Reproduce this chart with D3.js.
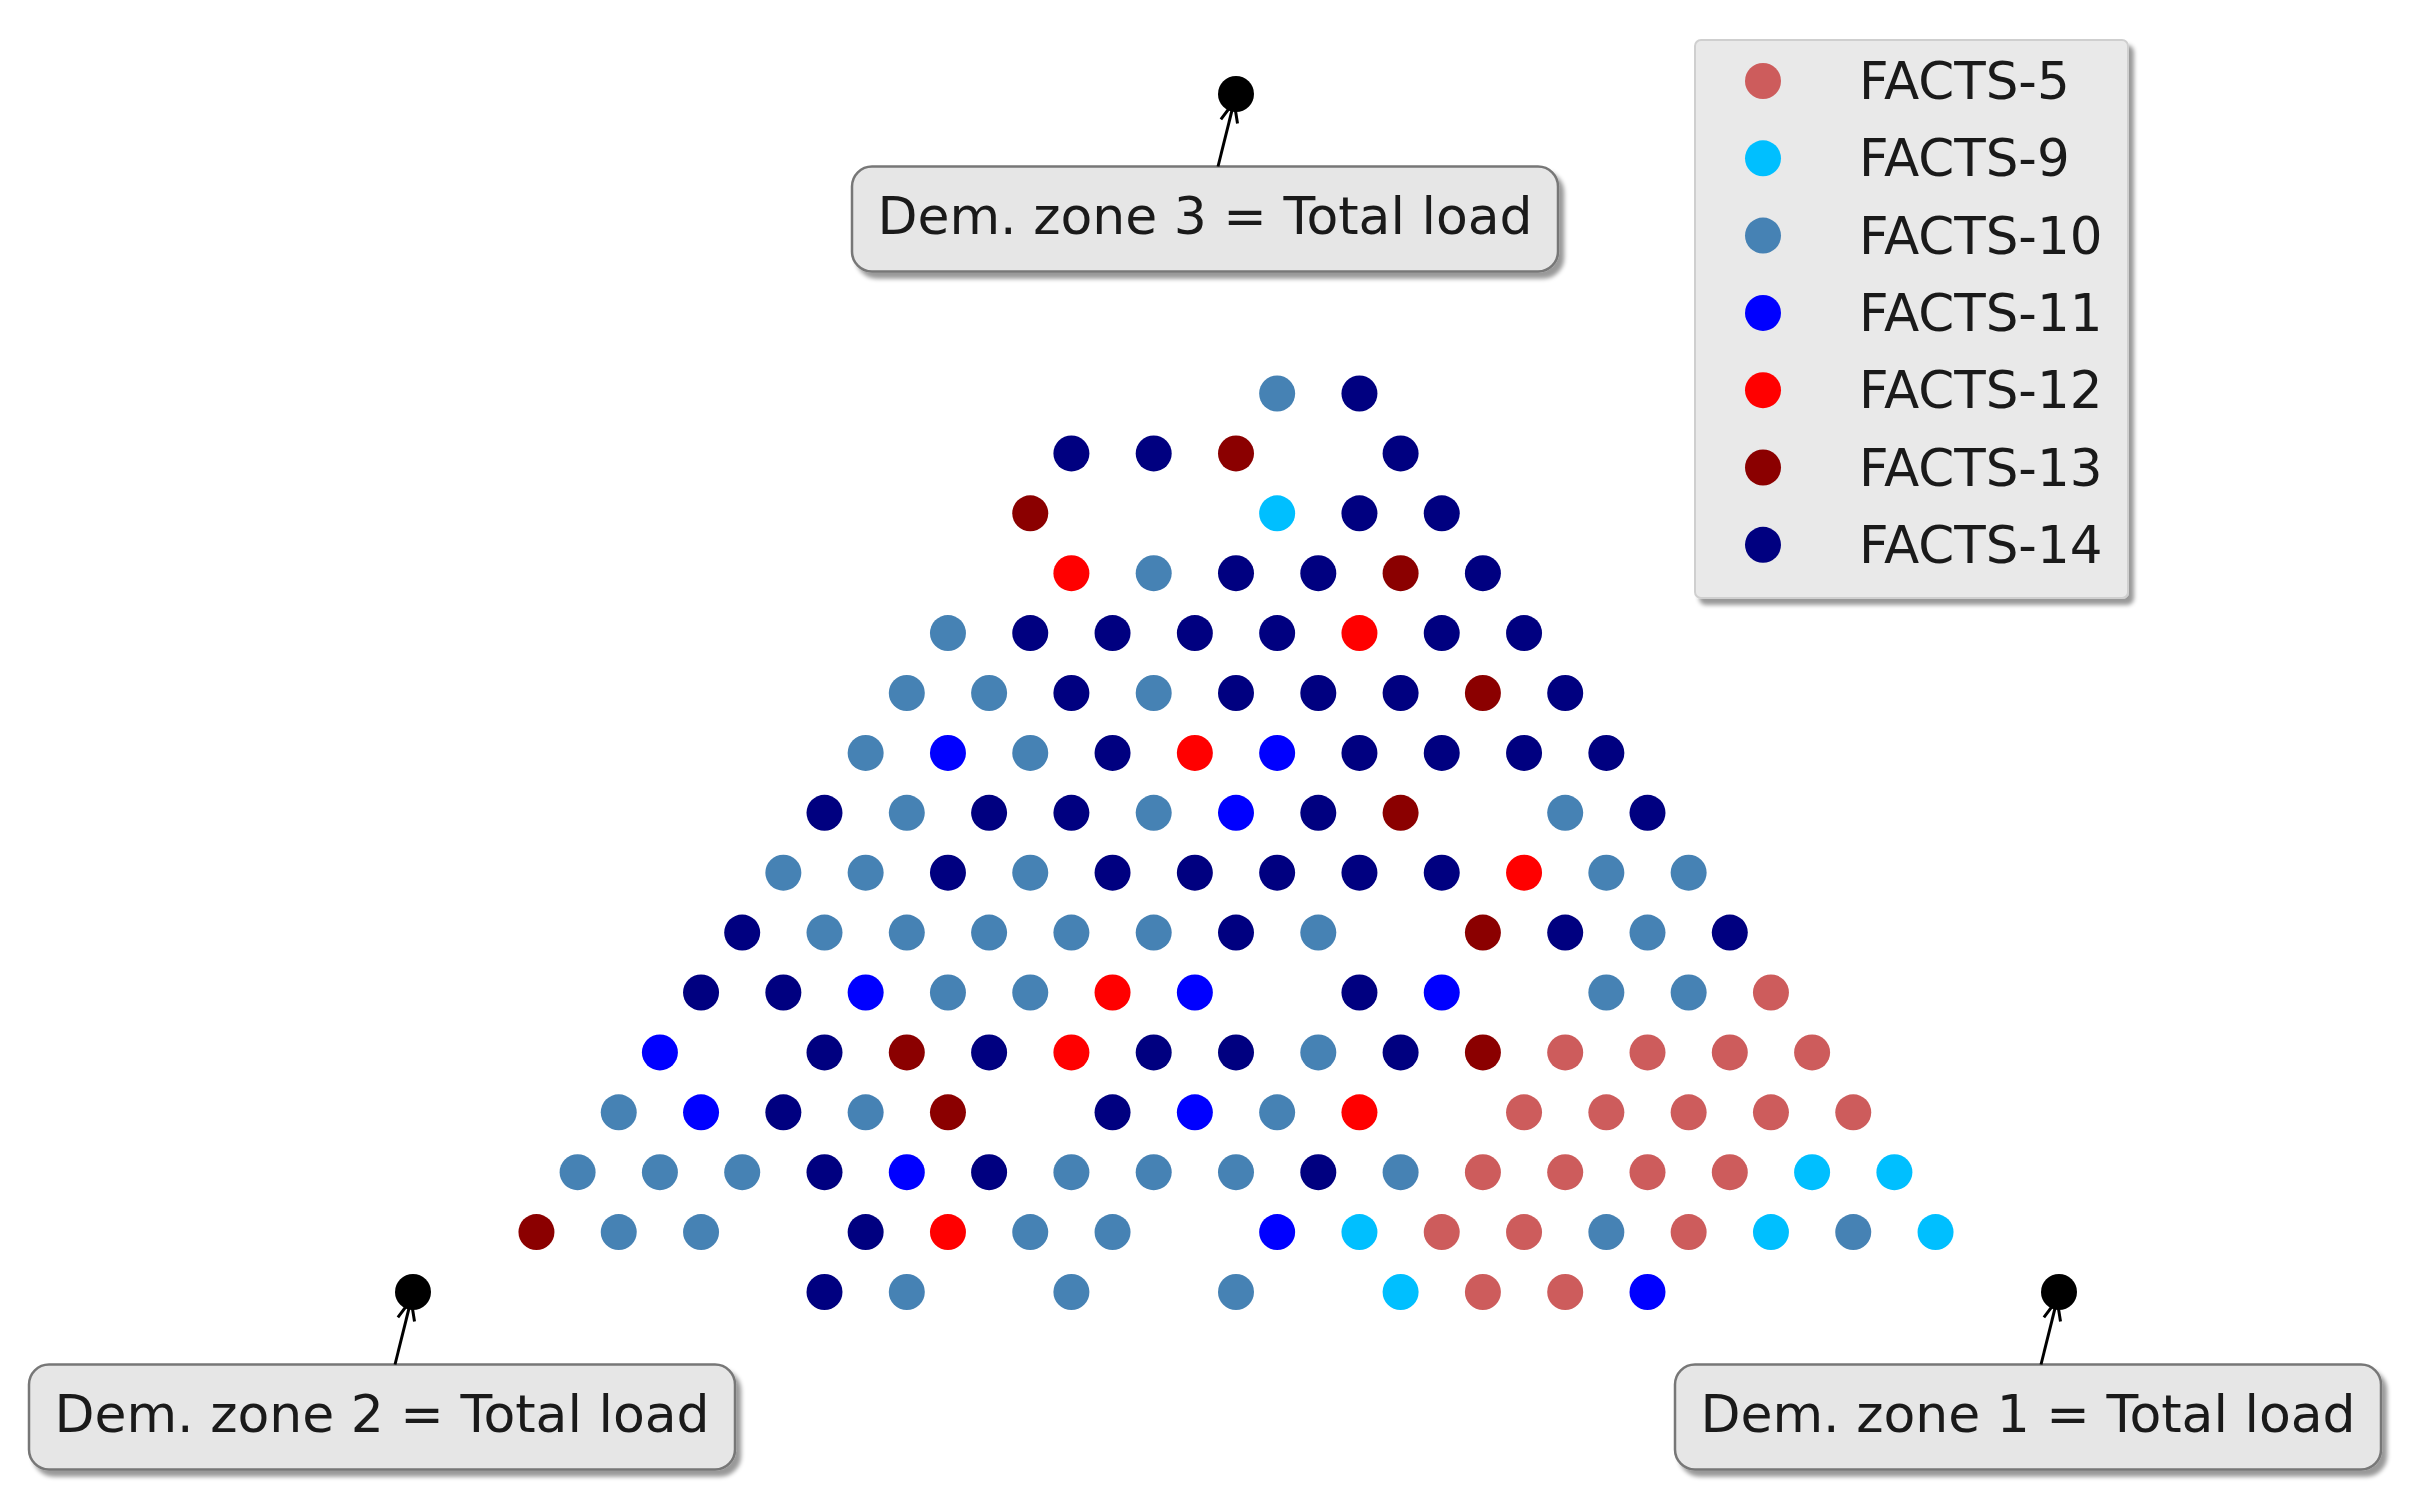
<!DOCTYPE html>
<html>
<head>
<meta charset="utf-8">
<script src="https://cdn.jsdelivr.net/npm/d3@7"></script>
<style>
  body { margin: 0; background: #fff; }
  text { font-family: "DejaVu Sans", sans-serif; }
</style>
</head>
<body>
<div id="chart"></div>
<script>
// Total load split into 20 steps, points given as [zone 1, zone 3] (zone 2 = rest)
var totalSteps = 20;

var factsNames = ["FACTS-5", "FACTS-9", "FACTS-10", "FACTS-11", "FACTS-12", "FACTS-13", "FACTS-14"];
var factsColors = ["indianred", "deepskyblue", "steelblue", "blue", "red", "darkred", "navy"];

var facts5 = [[14,5],[12,4],[13,4],[14,4],[15,4],[12,3],[13,3],[14,3],[15,3],[16,3],
  [12,2],[13,2],[14,2],[15,2],[12,1],[13,1],[15,1],[13,0],[14,0]];
var facts9 = [[4,13],[16,2],[17,2],[11,1],[16,1],[18,1],[12,0]];
var facts10 = [[3,15],[3,12],[1,11],[1,10],[2,10],[4,10],[1,9],[3,9],[2,8],[5,8],[10,8],
  [1,7],[2,7],[4,7],[11,7],[12,7],[2,6],[3,6],[4,6],[5,6],[6,6],[8,6],[12,6],
  [4,5],[5,5],[12,5],[13,5],[9,4],[1,3],[4,3],[9,3],
  [1,2],[2,2],[3,2],[7,2],[8,2],[9,2],[11,2],[2,1],[3,1],[7,1],[8,1],[14,1],[17,1],
  [6,0],[8,0],[10,0]];
var facts11 = [[2,9],[6,9],[6,8],[3,5],[7,5],[10,5],[1,4],[2,3],[8,3],[5,2],[10,1],[15,0]];
var facts12 = [[2,12],[6,11],[5,9],[10,7],[6,5],[6,4],[10,3],[6,1]];
var facts13 = [[3,14],[1,13],[6,12],[8,10],[8,8],[10,6],[4,4],[11,4],[5,3],[1,1]];
var facts14 = [[4,15],[1,14],[2,14],[5,14],[5,13],[6,13],[4,12],[5,12],[7,12],
  [2,11],[3,11],[4,11],[5,11],[7,11],[8,11],[3,10],[5,10],[6,10],[7,10],[9,10],
  [4,9],[7,9],[8,9],[9,9],[10,9],[1,8],[3,8],[4,8],[7,8],[11,8],
  [3,7],[5,7],[6,7],[7,7],[8,7],[9,7],[1,6],[7,6],[11,6],[13,6],
  [1,5],[2,5],[9,5],[3,4],[5,4],[7,4],[8,4],[10,4],[3,3],[7,3],
  [4,2],[6,2],[10,2],[5,1],[5,0]];

var factsSeries = [facts5, facts9, facts10, facts11, facts12, facts13, facts14];

// corners of the triangle: [zone 1, zone 3]
var cornerLabels = ["Dem. zone 1 = Total load", "Dem. zone 2 = Total load", "Dem. zone 3 = Total load"];
var cornerPoints = [[20, 0], [0, 0], [0, 20]];

var svgWidth = 2415;
var svgHeight = 1500;
var markerR = 18;

var svg = d3.select("#chart")
  .append("svg")
  .attr("width", svgWidth)
  .attr("height", svgHeight);

var defs = svg.append("defs");
var shadow = defs.append("filter").attr("id", "shadow")
  .attr("x", "-10%").attr("y", "-10%").attr("width", "130%").attr("height", "130%");
shadow.append("feDropShadow")
  .attr("dx", 5).attr("dy", 6).attr("stdDeviation", 2)
  .attr("flood-color", "#000").attr("flood-opacity", 0.4);

// horizontal position comes from zone 1 plus half of zone 3
var xScale = d3.scaleLinear().domain([0, totalSteps]).range([413, 2059]);
var yScale = d3.scaleLinear().domain([0, totalSteps]).range([1292, 94]);

var points = [];
factsSeries.forEach(function(series, s) {
  series.forEach(function(p) {
    points.push({ z1: p[0], z3: p[1], s: s });
  });
});

svg.append("g").selectAll("circle")
  .data(points)
  .enter()
  .append("circle")
  .attr("cx", d => xScale(d.z1 + d.z3 / 2))
  .attr("cy", d => yScale(d.z3))
  .attr("r", markerR)
  .attr("fill", d => factsColors[d.s]);

// corner annotations
var corners = svg.append("g");
cornerPoints.forEach(function(c, i) {
  var px = xScale(c[0] + c[1] / 2);
  var py = yScale(c[1]);
  var bx = px - 31, by = py + 125;
  var boxW = 706, boxH = 105;
  var g = corners.append("g");

  g.append("rect")
    .attr("x", bx - boxW / 2)
    .attr("y", by - boxH / 2)
    .attr("width", boxW)
    .attr("height", boxH)
    .attr("rx", 20)
    .attr("fill", "#e6e6e6")
    .attr("stroke", "#777")
    .attr("stroke-width", 2.5)
    .attr("filter", "url(#shadow)");

  g.append("text")
    .attr("x", bx)
    .attr("y", by + 15)
    .attr("text-anchor", "middle")
    .attr("font-size", "52px")
    .attr("fill", "#1a1a1a")
    .text(cornerLabels[i]);

  // arrow from the box edge up to the corner point
  var tailY = by - boxH / 2;
  var t = (by - tailY) / (by - py);
  var tailX = bx + (px - bx) * t;
  var ang = Math.atan2(py - tailY, px - tailX);
  var tipX = px - Math.cos(ang) * 8, tipY = py - Math.sin(ang) * 8;
  g.append("line")
    .attr("x1", tailX).attr("y1", tailY)
    .attr("x2", tipX).attr("y2", tipY)
    .attr("stroke", "#000").attr("stroke-width", 3);
  var hl = 22, ha = 0.4;
  g.append("path")
    .attr("d", "M" + (tipX - hl * Math.cos(ang - ha)) + "," + (tipY - hl * Math.sin(ang - ha)) +
      "L" + tipX + "," + tipY +
      "L" + (tipX - hl * Math.cos(ang + ha)) + "," + (tipY - hl * Math.sin(ang + ha)))
    .attr("fill", "none").attr("stroke", "#000").attr("stroke-width", 3);

  g.append("circle")
    .attr("cx", px).attr("cy", py)
    .attr("r", markerR)
    .attr("fill", "#000");
});

// legend
var legend = svg.append("g").attr("transform", "translate(1695, 40)");
legend.append("rect")
  .attr("width", 433)
  .attr("height", 558)
  .attr("rx", 6)
  .attr("fill", "#e9e9e9")
  .attr("stroke", "#cfcfcf")
  .attr("stroke-width", 2)
  .attr("filter", "url(#shadow)");

var items = legend.selectAll(".item")
  .data(factsNames)
  .enter()
  .append("g")
  .attr("transform", (d, i) => `translate(0, ${41 + i * 77.3})`);

items.append("circle")
  .attr("cx", 68)
  .attr("r", markerR)
  .attr("fill", (d, i) => factsColors[i]);

items.append("text")
  .attr("x", 164)
  .attr("y", 18)
  .attr("font-size", "51.5px")
  .attr("fill", "#1a1a1a")
  .text(d => d);
</script>
</body>
</html>
